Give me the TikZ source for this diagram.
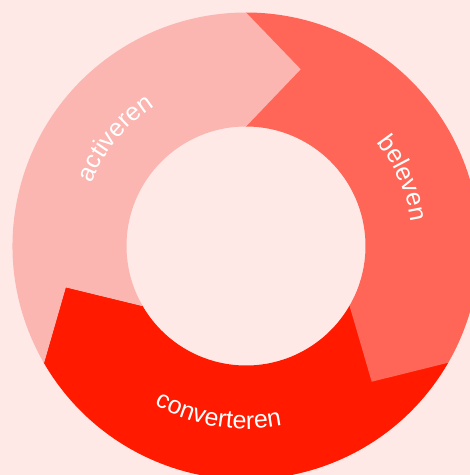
\documentclass[tikz,border=0pt]{standalone}
\usepackage{fontspec}
\newfontfamily\labelfont{Liberation Sans}
\usetikzlibrary{decorations.text}
\definecolor{bgc}{HTML}{FFE9E6}
\definecolor{pinkc}{HTML}{FBB6B1}
\definecolor{salmonc}{HTML}{FF6657}
\definecolor{redc}{HTML}{FF1A00}
\tikzset{
  ringlabel/.style={decorate, decoration={text along path, text align=center, text color=white,
    text={|\labelfont\fontsize{25}{29}\selectfont|#1}}}
}
\def\Ro{233.5pt}
\def\Ri{119.5pt}
\def\Rp{185pt}
\begin{document}
\begin{tikzpicture}[x=1pt,y=1pt]
\useasboundingbox (0,0) rectangle (470,475);
\fill[bgc] (0,0) rectangle (470,475);
\begin{scope}
\clip (0,0) rectangle (470,475);
\begin{scope}[shift={(246,229)}]
  % converteren segment (tail straight at -30, head at -150)
  \fill[redc] (-30:\Ro) arc[start angle=-30, end angle=-150, radius=\Ro]
    -- (-167.2:\Rp) -- (-150:\Ri)
    arc[start angle=-150, end angle=-30, radius=\Ri] -- cycle;
  % beleven segment (tail straight at 90, head at -30)
  \fill[salmonc] (90:\Ro) arc[start angle=90, end angle=-30, radius=\Ro]
    -- (-47.2:\Rp) -- (-30:\Ri)
    arc[start angle=-30, end angle=90, radius=\Ri] -- cycle;
  % activeren segment (notched tail at 210, head at 90)
  \fill[pinkc] (210:\Ro) arc[start angle=210, end angle=90, radius=\Ro]
    -- (72.8:\Rp) -- (90:\Ri)
    arc[start angle=90, end angle=210, radius=\Ri] -- (192.8:\Rp) -- cycle;
  \draw[pinkc, line width=0.6pt, line join=round] (210:\Ro) -- (192.8:\Rp) -- (210:\Ri);
  % labels
  \path[ringlabel=activeren] (180.5:167pt) arc[start angle=180.5, end angle=100.5, radius=167pt];
  \path[ringlabel=beleven] (63.4:167pt) arc[start angle=63.4, end angle=-16.6, radius=167pt];
  \path[ringlabel=converteren] (-139.3:183pt) arc[start angle=-139.3, end angle=-59.3, radius=183pt];
\end{scope}
\end{scope}
\end{tikzpicture}
\end{document}
